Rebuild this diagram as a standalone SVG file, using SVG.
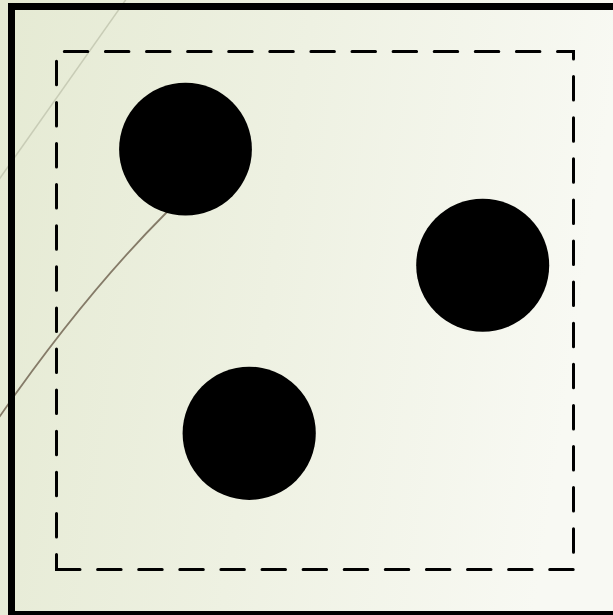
<svg xmlns="http://www.w3.org/2000/svg" width="613" height="615" viewBox="0 0 613 615">
  <defs>
    <linearGradient id="bg" x1="0" y1="0" x2="1" y2="0.15">
      <stop offset="0" stop-color="#e5ead3"/>
      <stop offset="0.5" stop-color="#eef1e2"/>
      <stop offset="1" stop-color="#f8f9f3"/>
    </linearGradient>
  </defs>
  <style>
    .dot { fill: #000000; }
    .frame { fill: none; stroke: #000000; stroke-width: 7; }
    .dash { fill: none; stroke: #000000; stroke-width: 3; stroke-linecap: round; stroke-dasharray: 23.5 17.6; }
    .wisp1 { fill: none; stroke: #c8ccb6; stroke-width: 1.5; }
    .wisp2 { fill: none; stroke: #857b68; stroke-width: 1.8; }
  </style>
  <rect x="0" y="0" width="613" height="615" fill="url(#bg)"/>
  <g id="decor">
    <path class="wisp1" d="M127,-2 L-2,181"/>
    <path class="wisp2" d="M185,194 L167,212 Q84,295 0,416 L-5,423"/>
  </g>
  <rect id="frame" class="frame" x="11.5" y="6.5" width="612" height="608"/>
  <path id="boundary" class="dash" d="M56.5,569.5 H573.5 V51.5 H56.5 Z"/>
  <g id="dot1"><circle class="dot" cx="185.5" cy="149.2" r="66.4"/></g>
  <g id="dot2"><circle class="dot" cx="482.7" cy="265.3" r="66.5"/></g>
  <g id="dot3"><circle class="dot" cx="249.2" cy="433.3" r="66.6"/></g>
</svg>
